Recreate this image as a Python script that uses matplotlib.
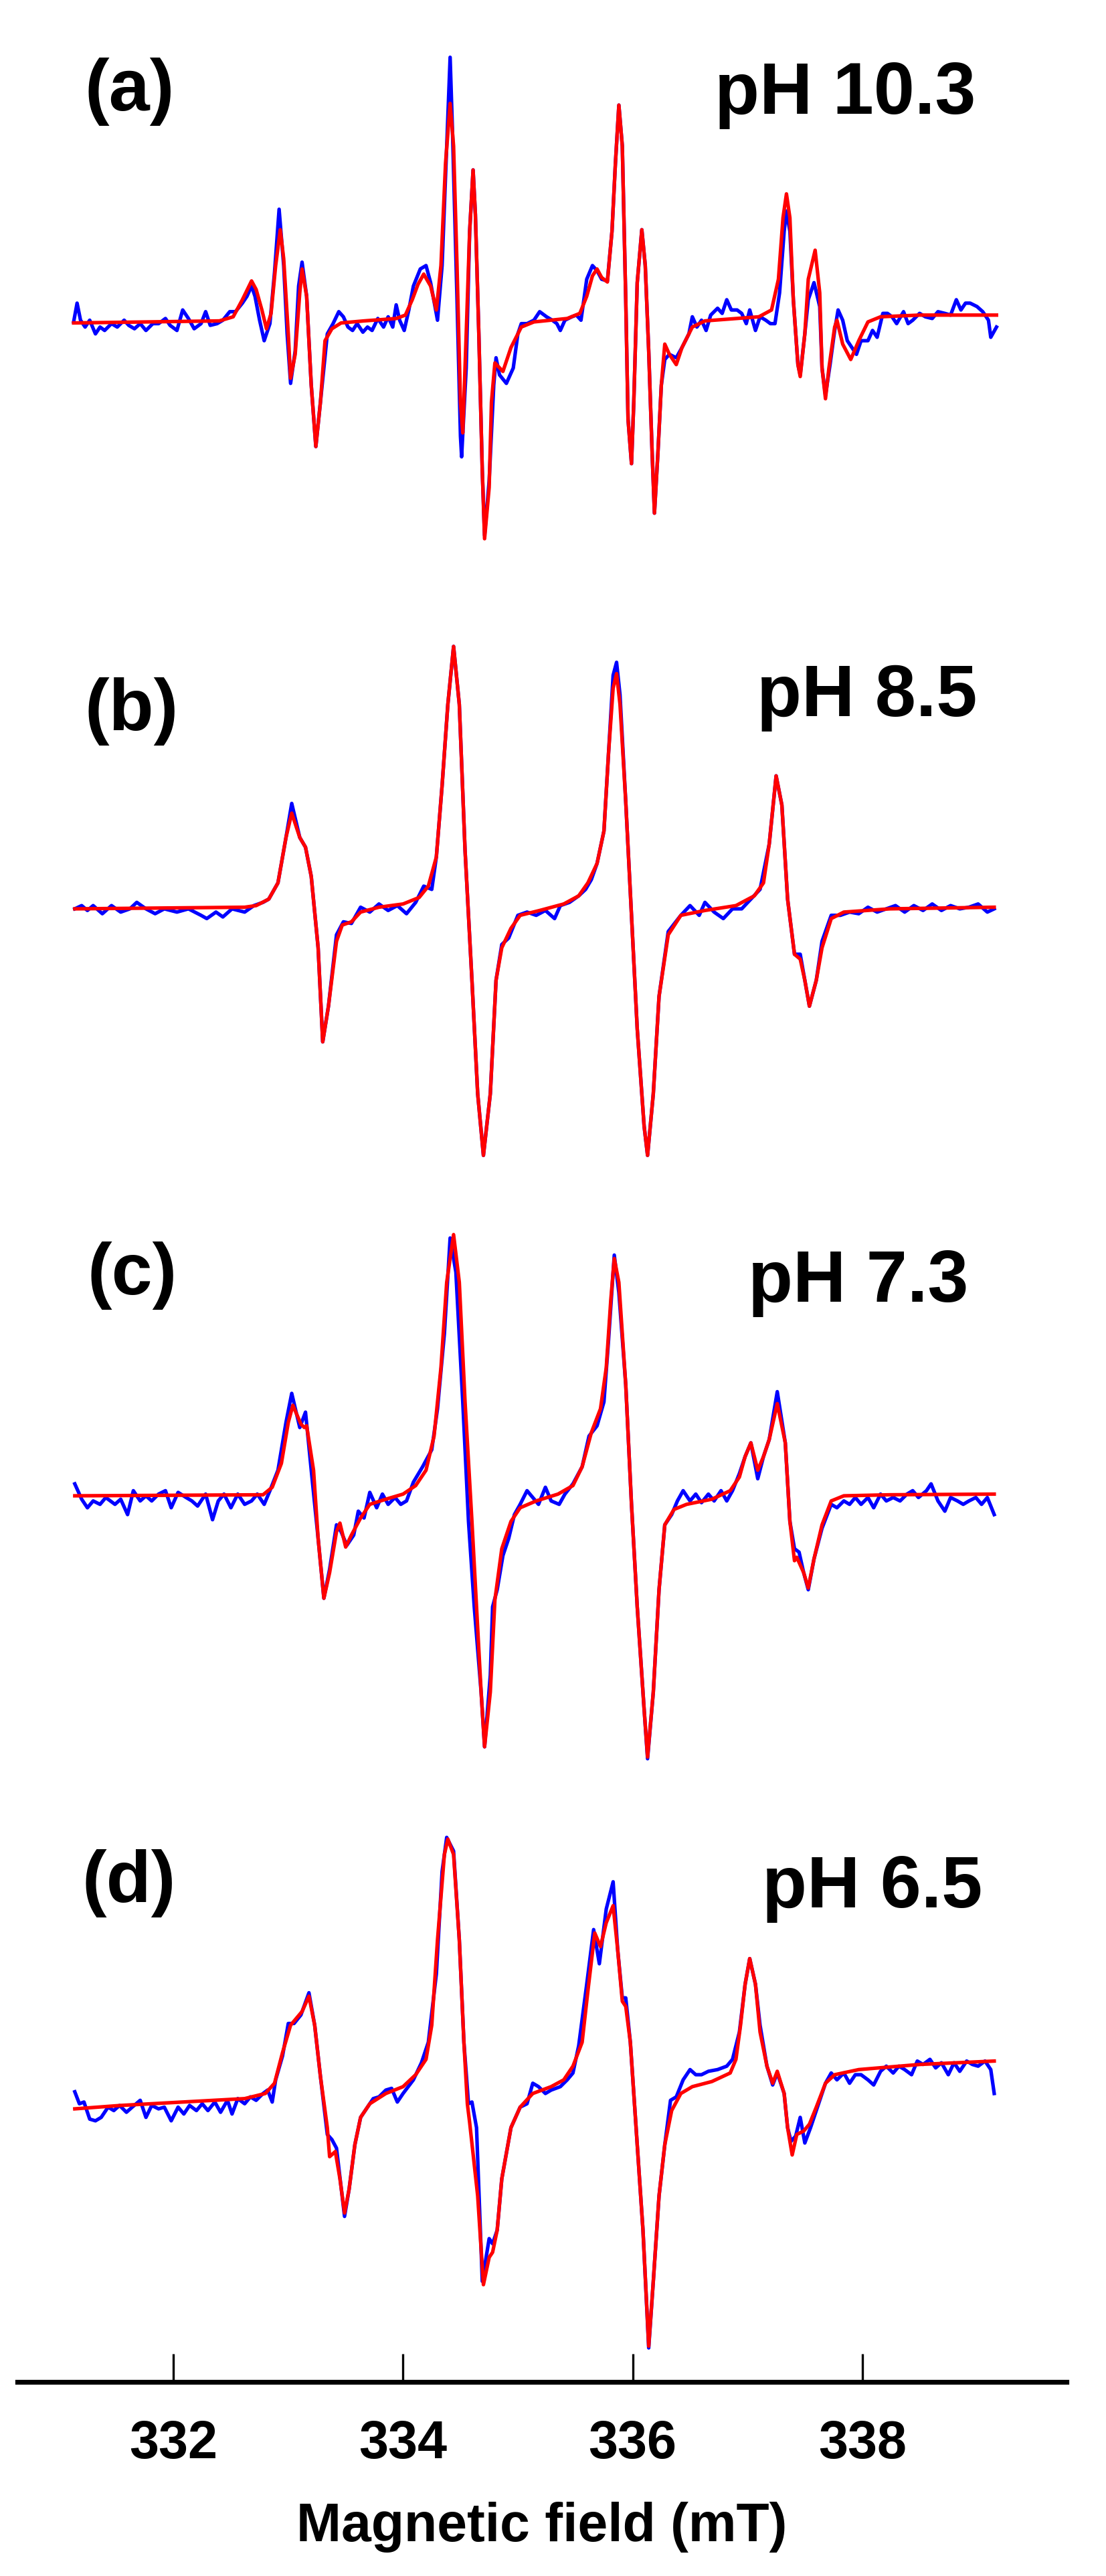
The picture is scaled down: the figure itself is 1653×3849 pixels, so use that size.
import matplotlib.pyplot as plt

# EPR spectra, field in mT, intensity in a.u. (each panel its own scale)
# pairs are (field, intensity); exp = blue, sim = red

a_exp = [(331.13, 0), (331.16, 55), (331.19, 5), (331.23, -15), (331.27, 5), (331.32, -35), (331.36, -15),
         (331.40, -25), (331.46, -5), (331.51, -15), (331.57, 5), (331.61, -10), (331.66, -20), (331.71, -5),
         (331.76, -25), (331.82, -5), (331.87, -5), (331.93, 10), (331.97, -10), (332.03, -25), (332.08, 35),
         (332.13, 10), (332.18, -20), (332.24, -5), (332.28, 30), (332.32, -10), (332.38, -5), (332.43, 5),
         (332.49, 30), (332.54, 30), (332.60, 55), (332.64, 75), (332.68, 105), (332.71, 75), (332.75, 5),
         (332.79, -55), (332.84, -5), (332.88, 145), (332.92, 330), (332.96, 165), (332.99, -35), (333.02, -180),
         (333.06, -85), (333.09, 105), (333.12, 175), (333.16, 75), (333.20, -185), (333.24, -365), (333.28, -235),
         (333.34, -35), (333.39, -5), (333.44, 30), (333.48, 15), (333.52, -15), (333.56, -25), (333.60, -5),
         (333.65, -30), (333.69, -15), (333.73, -25), (333.78, 10), (333.83, -15), (333.87, 15), (333.91, -15),
         (333.94, 50), (333.97, 5), (334.01, -25), (334.05, 35), (334.09, 105), (334.15, 155), (334.20, 165),
         (334.24, 115), (334.30, 5), (334.34, 165), (334.38, 515), (334.41, 775), (334.43, 565), (334.47, 65),
         (334.50, -335), (334.51, -395), (334.55, -135), (334.58, 265), (334.61, 445), (334.63, 315), (334.66, -35),
         (334.69, -435), (334.71, -625), (334.75, -465), (334.79, -185), (334.81, -105), (334.84, -155),
         (334.90, -180), (334.96, -135), (335.00, -35), (335.03, -5), (335.08, -5), (335.14, 5), (335.19, 30),
         (335.25, 15), (335.30, 5), (335.34, -5), (335.37, -25), (335.41, 5), (335.47, 15), (335.51, 20),
         (335.55, 5), (335.60, 125), (335.65, 165), (335.69, 150), (335.73, 125), (335.78, 120), (335.82, 265),
         (335.85, 465), (335.88, 635), (335.91, 515), (335.94, 65), (335.96, -285), (335.99, -415), (336.01, -235),
         (336.04, 115), (336.08, 270), (336.11, 165), (336.14, -85), (336.17, -385), (336.19, -560), (336.22, -385),
         (336.25, -185), (336.28, -110), (336.32, -95), (336.38, -105), (336.43, -75), (336.49, -35), (336.52, 15),
         (336.56, -15), (336.60, 5), (336.64, -25), (336.68, 20), (336.74, 40), (336.78, 25), (336.82, 65),
         (336.86, 35), (336.91, 35), (336.95, 25), (336.99, -5), (337.02, 35), (337.07, -25), (337.11, 15),
         (337.16, 5), (337.20, -5), (337.24, -5), (337.28, 85), (337.32, 265), (337.34, 325), (337.37, 265),
         (337.40, 65), (337.44, -125), (337.46, -155), (337.50, -35), (337.53, 65), (337.58, 115), (337.63, 45),
         (337.65, -135), (337.68, -215), (337.72, -125), (337.76, -25), (337.79, 35), (337.83, 5), (337.87, -55),
         (337.91, -75), (337.95, -95), (337.99, -55), (338.05, -55), (338.09, -25), (338.13, -45), (338.18, 25),
         (338.22, 25), (338.26, 15), (338.30, -5), (338.36, 30), (338.40, -5), (338.44, 5), (338.50, 25),
         (338.55, 15), (338.61, 10), (338.66, 30), (338.72, 25), (338.77, 20), (338.82, 65), (338.86, 35),
         (338.90, 55), (338.94, 55), (339.00, 45), (339.05, 30), (339.10, 5), (339.12, -45), (339.17, -15)]

a_sim = [(331.13, -3), (332.40, 3), (332.52, 15), (332.60, 65), (332.68, 120), (332.72, 95), (332.77, 35),
         (332.81, -20), (332.85, 25), (332.89, 165), (332.93, 270), (332.96, 185), (333.00, -35), (333.02, -165),
         (333.06, -95), (333.10, 85), (333.12, 155), (333.16, 75), (333.20, -185), (333.24, -365), (333.28, -235),
         (333.32, -55), (333.38, -20), (333.46, -3), (333.66, 3), (333.94, 10), (334.02, 20), (334.08, 65),
         (334.13, 110), (334.18, 140), (334.24, 105), (334.29, 35), (334.33, 165), (334.37, 465), (334.41, 640),
         (334.44, 515), (334.47, 165), (334.50, -235), (334.52, -325), (334.55, -35), (334.58, 265), (334.61, 445),
         (334.63, 315), (334.66, -35), (334.69, -435), (334.71, -635), (334.75, -485), (334.77, -235),
         (334.80, -120), (334.87, -145), (334.94, -75), (335.03, -15), (335.14, 0), (335.43, 10), (335.54, 25),
         (335.60, 75), (335.65, 135), (335.69, 155), (335.73, 130), (335.78, 117), (335.82, 265), (335.85, 465),
         (335.88, 635), (335.91, 515), (335.94, 65), (335.96, -285), (335.99, -415), (336.01, -235), (336.04, 115),
         (336.08, 270), (336.11, 165), (336.14, -85), (336.17, -385), (336.19, -560), (336.22, -385),
         (336.25, -185), (336.28, -65), (336.32, -95), (336.38, -125), (336.43, -75), (336.52, -15), (336.63, 3),
         (337.10, 15), (337.21, 35), (337.27, 125), (337.31, 305), (337.34, 375), (337.37, 305), (337.40, 65),
         (337.44, -125), (337.46, -160), (337.50, -35), (337.53, 125), (337.59, 210), (337.63, 85), (337.65, -135),
         (337.68, -225), (337.71, -135), (337.76, -15), (337.78, 5), (337.83, -65), (337.90, -110), (337.97, -55),
         (338.05, 0), (338.16, 15), (338.50, 20), (339.17, 20)]

b_exp = [(331.14, -2), (331.20, 8), (331.25, -7), (331.30, 8), (331.38, -17), (331.46, 8), (331.54, -12),
         (331.62, -2), (331.68, 18), (331.76, -2), (331.84, -17), (331.92, -2), (332.03, -12), (332.13, -2),
         (332.24, -22), (332.29, -32), (332.37, -12), (332.43, -27), (332.51, -2), (332.62, -12), (332.70, 8),
         (332.78, 18), (332.83, 28), (332.91, 78), (332.98, 218), (333.03, 323), (333.10, 218), (333.15, 188),
         (333.20, 98), (333.26, -122), (333.30, -412), (333.35, -302), (333.42, -82), (333.48, -42), (333.55, -47),
         (333.63, 3), (333.71, -12), (333.79, 13), (333.87, -7), (333.95, 8), (334.03, -17), (334.11, 18),
         (334.18, 68), (334.25, 58), (334.29, 158), (334.34, 378), (334.39, 628), (334.44, 807), (334.49, 628),
         (334.54, 178), (334.60, -222), (334.65, -572), (334.70, -762), (334.76, -572), (334.81, -222),
         (334.86, -112), (334.92, -92), (335.00, -22), (335.08, -12), (335.16, -22), (335.24, -7), (335.32, -32),
         (335.37, 8), (335.45, 18), (335.53, 38), (335.59, 58), (335.64, 88), (335.69, 138), (335.75, 238),
         (335.79, 478), (335.83, 718), (335.86, 758), (335.89, 658), (335.94, 328), (335.99, -22), (336.04, -372),
         (336.10, -672), (336.13, -762), (336.18, -572), (336.23, -272), (336.31, -72), (336.42, -22), (336.50, 8),
         (336.58, -22), (336.63, 18), (336.71, -12), (336.79, -32), (336.87, -2), (336.95, -2), (337.03, 28),
         (337.11, 58), (337.19, 198), (337.25, 408), (337.30, 318), (337.35, 28), (337.41, -142), (337.46, -142),
         (337.50, -222), (337.54, -302), (337.60, -222), (337.65, -102), (337.73, -22), (337.81, -22),
         (337.89, -12), (337.97, -17), (338.05, 3), (338.13, -12), (338.21, -2), (338.29, 8), (338.37, -12),
         (338.45, 8), (338.53, -7), (338.61, 13), (338.69, -7), (338.77, 8), (338.85, -2), (338.93, 3),
         (339.01, 13), (339.09, -12), (339.15, -2)]

b_sim = [(331.14, -2), (332.62, 3), (332.72, 8), (332.83, 28), (332.91, 78), (332.98, 218), (333.03, 293),
         (333.10, 218), (333.15, 188), (333.20, 98), (333.26, -122), (333.30, -412), (333.35, -302), (333.42, -102),
         (333.47, -52), (333.55, -42), (333.63, -12), (333.79, 3), (334.00, 13), (334.14, 33), (334.22, 68),
         (334.29, 158), (334.34, 378), (334.39, 628), (334.44, 807), (334.49, 628), (334.54, 178), (334.60, -222),
         (334.65, -572), (334.70, -762), (334.76, -572), (334.81, -222), (334.86, -122), (334.94, -62),
         (335.02, -22), (335.19, -7), (335.40, 13), (335.53, 38), (335.61, 78), (335.69, 138), (335.75, 238),
         (335.79, 478), (335.83, 678), (335.86, 723), (335.89, 628), (335.94, 328), (335.99, -22), (336.04, -372),
         (336.10, -672), (336.13, -762), (336.18, -572), (336.23, -272), (336.31, -82), (336.42, -22),
         (336.63, -7), (336.90, 8), (337.06, 38), (337.14, 78), (337.19, 198), (337.25, 408), (337.30, 318),
         (337.35, 28), (337.41, -142), (337.46, -157), (337.50, -222), (337.54, -302), (337.60, -222),
         (337.65, -122), (337.73, -32), (337.84, -12), (338.24, -2), (339.15, 3)]

c_exp = [(331.14, 35), (331.20, -10), (331.25, -35), (331.30, -15), (331.36, -25), (331.41, -5), (331.49, -25),
         (331.54, -10), (331.60, -55), (331.65, 15), (331.71, -15), (331.76, 0), (331.81, -15), (331.87, 5),
         (331.93, 15), (331.98, -35), (332.04, 10), (332.11, -5), (332.16, -15), (332.21, -30), (332.28, 5),
         (332.34, -70), (332.39, -15), (332.44, 5), (332.50, -35), (332.56, 5), (332.62, -25), (332.68, -15),
         (332.73, 5), (332.79, -25), (332.84, 15), (332.91, 75), (332.98, 215), (333.03, 300), (333.10, 200),
         (333.15, 245), (333.20, 75), (333.26, -125), (333.31, -300), (333.36, -215), (333.42, -85),
         (333.46, -105), (333.51, -145), (333.57, -115), (333.61, -45), (333.66, -65), (333.71, 10), (333.77, -35),
         (333.82, 5), (333.87, -25), (333.93, -5), (333.98, -25), (334.03, -15), (334.09, 40), (334.17, 85),
         (334.25, 135), (334.30, 255), (334.36, 475), (334.41, 755), (334.46, 655), (334.52, 275), (334.57, -75),
         (334.62, -325), (334.68, -575), (334.71, -735), (334.76, -525), (334.78, -325), (334.82, -275),
         (334.87, -175), (334.92, -125), (334.97, -55), (335.02, -25), (335.08, 15), (335.13, -5), (335.18, -25),
         (335.24, 25), (335.29, -15), (335.36, -25), (335.41, 5), (335.48, 35), (335.56, 85), (335.62, 175),
         (335.69, 205), (335.75, 275), (335.79, 455), (335.84, 705), (335.88, 595), (335.94, 325), (335.99, -25),
         (336.04, -325), (336.10, -625), (336.13, -770), (336.18, -575), (336.23, -275), (336.28, -85),
         (336.34, -55), (336.39, -15), (336.44, 15), (336.50, -15), (336.55, 5), (336.60, -20), (336.66, 5),
         (336.71, -15), (336.77, 15), (336.82, -15), (336.87, 15), (336.93, 65), (336.98, 115), (337.03, 155),
         (337.09, 50), (337.14, 115), (337.19, 165), (337.26, 305), (337.33, 155), (337.37, -75), (337.41, -155),
         (337.45, -165), (337.49, -225), (337.53, -275), (337.58, -185), (337.65, -95), (337.73, -25),
         (337.78, -35), (337.84, -15), (337.89, -25), (337.94, -5), (337.99, -25), (338.05, -5), (338.10, -35),
         (338.16, 5), (338.21, -15), (338.27, -5), (338.33, -15), (338.39, 5), (338.44, 15), (338.49, -5),
         (338.56, 15), (338.60, 35), (338.66, -15), (338.72, -45), (338.77, -5), (338.83, -15), (338.88, -25),
         (338.93, -15), (338.99, -5), (339.04, -25), (339.09, -5), (339.15, -55)]

c_sim = [(331.14, 0), (332.78, 3), (332.86, 25), (332.94, 95), (333.00, 215), (333.04, 265), (333.11, 210),
         (333.14, 200), (333.16, 205), (333.22, 75), (333.26, -125), (333.31, -300), (333.36, -225), (333.42, -105),
         (333.45, -80), (333.50, -150), (333.55, -115), (333.63, -65), (333.71, -25), (333.85, -10), (334.00, 5),
         (334.11, 30), (334.20, 75), (334.27, 175), (334.33, 375), (334.38, 625), (334.44, 765), (334.49, 625),
         (334.54, 275), (334.60, -75), (334.64, -325), (334.68, -575), (334.71, -735), (334.76, -575),
         (334.80, -305), (334.86, -155), (334.94, -75), (335.02, -35), (335.16, -15), (335.35, 5), (335.48, 30),
         (335.56, 85), (335.64, 185), (335.72, 255), (335.77, 375), (335.81, 575), (335.84, 695), (335.88, 625),
         (335.94, 325), (335.99, -25), (336.04, -325), (336.10, -625), (336.13, -765), (336.18, -575),
         (336.23, -275), (336.28, -85), (336.36, -40), (336.47, -25), (336.69, -10), (336.85, 15), (336.93, 55),
         (336.98, 115), (337.03, 155), (337.09, 75), (337.14, 115), (337.19, 165), (337.26, 270), (337.33, 155),
         (337.37, -75), (337.41, -190), (337.43, -180), (337.49, -225), (337.53, -270), (337.58, -185),
         (337.65, -85), (337.73, -15), (337.84, 0), (338.24, 3), (339.15, 5)]

d_exp = [(331.14, 50), (331.18, 15), (331.22, 20), (331.27, -30), (331.32, -35), (331.37, -25), (331.43, 5),
         (331.48, -5), (331.53, 10), (331.59, -10), (331.64, 5), (331.71, 25), (331.76, -25), (331.81, 10),
         (331.87, 0), (331.92, 5), (331.98, -35), (332.04, 5), (332.09, -15), (332.14, 10), (332.20, -5),
         (332.25, 15), (332.30, -5), (332.36, 20), (332.41, -10), (332.47, 25), (332.51, -15), (332.56, 30),
         (332.62, 15), (332.67, 35), (332.72, 25), (332.78, 45), (332.82, 55), (332.86, 20), (332.89, 85),
         (332.95, 155), (333.00, 250), (333.05, 250), (333.11, 275), (333.18, 340), (333.23, 245), (333.28, 95),
         (333.34, -75), (333.38, -90), (333.42, -115), (333.49, -315), (333.53, -235), (333.58, -105),
         (333.63, -25), (333.69, 5), (333.74, 30), (333.79, 35), (333.85, 55), (333.90, 60), (333.95, 20),
         (334.00, 45), (334.09, 85), (334.16, 135), (334.22, 195), (334.29, 395), (334.34, 695), (334.38, 795),
         (334.44, 755), (334.49, 495), (334.53, 195), (334.57, 15), (334.60, 20), (334.64, -55), (334.69, -505),
         (334.75, -380), (334.78, -395), (334.82, -355), (334.86, -205), (334.94, -55), (335.02, 5), (335.08, 15),
         (335.13, 75), (335.18, 65), (335.24, 45), (335.29, 55), (335.37, 65), (335.43, 85), (335.48, 105),
         (335.53, 185), (335.60, 365), (335.66, 525), (335.71, 425), (335.77, 585), (335.83, 665), (335.87, 465),
         (335.91, 325), (335.94, 325), (335.98, 195), (336.03, -55), (336.09, -355), (336.14, -700),
         (336.18, -505), (336.23, -255), (336.28, -105), (336.33, 25), (336.38, 35), (336.44, 85), (336.50, 115),
         (336.55, 100), (336.60, 100), (336.66, 110), (336.74, 115), (336.82, 125), (336.87, 145), (336.93, 225),
         (336.98, 365), (337.02, 440), (337.07, 365), (337.11, 245), (337.17, 125), (337.22, 70), (337.26, 105),
         (337.32, 45), (337.35, -55), (337.38, -95), (337.42, -80), (337.46, -25), (337.50, -100), (337.55, -55),
         (337.60, -5), (337.68, 75), (337.73, 105), (337.78, 85), (337.84, 105), (337.89, 75), (337.94, 100),
         (337.99, 100), (338.05, 85), (338.10, 70), (338.16, 110), (338.21, 125), (338.27, 105), (338.32, 125),
         (338.37, 115), (338.43, 100), (338.48, 140), (338.53, 130), (338.59, 145), (338.64, 120), (338.69, 135),
         (338.75, 100), (338.80, 135), (338.85, 110), (338.91, 140), (338.96, 130), (339.01, 125), (339.07, 140),
         (339.12, 115), (339.15, 45)]

d_sim = [(331.14, 0), (331.54, 10), (332.08, 20), (332.62, 30), (332.80, 45), (332.88, 75), (332.95, 165),
         (333.02, 245), (333.07, 265), (333.12, 285), (333.18, 330), (333.23, 245), (333.28, 95), (333.34, -55),
         (333.36, -140), (333.41, -125), (333.45, -205), (333.49, -305), (333.53, -235), (333.58, -105),
         (333.63, -25), (333.71, 15), (333.85, 45), (334.00, 65), (334.11, 100), (334.20, 145), (334.25, 245),
         (334.30, 495), (334.36, 745), (334.39, 790), (334.44, 745), (334.49, 495), (334.53, 195), (334.56, 15),
         (334.58, -40), (334.65, -255), (334.70, -515), (334.75, -435), (334.78, -420), (334.82, -355),
         (334.86, -205), (334.94, -55), (335.02, 5), (335.13, 45), (335.29, 65), (335.40, 85), (335.48, 125),
         (335.56, 195), (335.61, 345), (335.67, 515), (335.72, 475), (335.77, 545), (335.83, 595), (335.87, 465),
         (335.91, 315), (335.94, 300), (335.98, 195), (336.03, -55), (336.09, -355), (336.14, -695),
         (336.18, -505), (336.23, -255), (336.28, -105), (336.34, -5), (336.42, 45), (336.52, 65), (336.69, 80),
         (336.85, 105), (336.90, 145), (336.94, 245), (336.98, 365), (337.02, 440), (337.07, 365), (337.11, 225),
         (337.17, 125), (337.22, 75), (337.26, 110), (337.32, 45), (337.35, -55), (337.39, -135), (337.43, -75),
         (337.49, -65), (337.54, -45), (337.60, 5), (337.68, 75), (337.76, 100), (337.97, 115), (338.50, 130),
         (339.15, 140)]

panel_tags = ["(a)", "(b)", "(c)", "(d)"]
ph_labels = ["pH 10.3", "pH 8.5", "pH 7.3", "pH 6.5"]
x_ticks = [332, 334, 336, 338]

# ---- layout (figure pixels) ----
W, H = 1653, 3849
FONT = "Liberation Sans"
x0_px, x1_px = 26, 1594
field_lo, field_hi = 330.64, 339.78
# baseline px, px per unit, top px, bottom px
rows = [(481, 0.5102, 40, 880),
        (1357, 0.4847, 900, 1760),
        (2235, 0.5102, 1780, 2660),
        (3151, 0.5102, 2680, 3559)]
tag_pos = [(127, 165), (127, 1091), (131, 1934), (122, 2842)]
ph_pos = [(1458, 170), (1460, 1070), (1447, 1945), (1468, 2850)]

fig = plt.figure(figsize=(W / 100, H / 100), dpi=100)
spectra = [(a_exp, a_sim), (b_exp, b_sim), (c_exp, c_sim), (d_exp, d_sim)]

axes = []
for (exp, sim), (base, unit, top, bot) in zip(spectra, rows):
    ax = fig.add_axes([x0_px / W, 1 - bot / H, (x1_px - x0_px) / W, (bot - top) / H])
    ax.patch.set_alpha(0)
    fx, ix = zip(*exp)
    fs, is_ = zip(*sim)
    ax.plot(fx, ix, color="#0000ff", lw=3.8, solid_joinstyle="round")
    ax.plot(fs, is_, color="#ff0000", lw=3.8, solid_joinstyle="round")
    ax.set_xlim(field_lo, field_hi)
    ax.set_ylim((base - bot) / unit, (base - top) / unit)
    for s in ax.spines.values():
        s.set_visible(False)
    ax.set_yticks([])
    ax.set_xticks([])
    axes.append(ax)

ax = axes[-1]
ax.spines["bottom"].set_visible(True)
ax.spines["bottom"].set_linewidth(5.2)
ax.set_xticks(x_ticks)
ax.set_xticklabels([str(t) for t in x_ticks])
ax.tick_params(axis="x", direction="in", length=30, width=2.4, pad=40, labelsize=57)
for lab in ax.get_xticklabels():
    lab.set_fontfamily(FONT)
    lab.set_fontweight("bold")
ax.set_xlabel("Magnetic field (mT)", fontsize=58, fontweight="bold", fontfamily=FONT, labelpad=35)

for tag, (tx, ty) in zip(panel_tags, tag_pos):
    fig.text(tx / W, 1 - ty / H, tag, fontsize=79, fontweight="bold", fontfamily=FONT,
             ha="left", va="baseline")
for ph, (px, py) in zip(ph_labels, ph_pos):
    fig.text(px / W, 1 - py / H, ph, fontsize=79, fontweight="bold", fontfamily=FONT,
             ha="right", va="baseline")

fig.savefig("out.png", dpi=100, facecolor="white")
